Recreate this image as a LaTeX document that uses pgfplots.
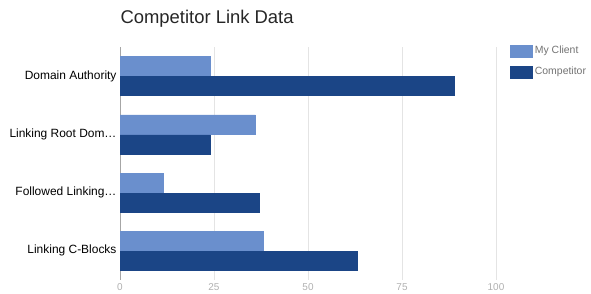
\documentclass[border=0pt]{standalone}
\usepackage{pgfplots}
\pgfplotsset{compat=1.18}
\usepackage{fontspec}
\setmainfont{Liberation Sans}
\definecolor{client}{HTML}{6A8FCD}
\definecolor{comp}{HTML}{1B4586}
\definecolor{gridc}{HTML}{E4E4E4}
\definecolor{tickc}{HTML}{B0B0B0}
\begin{document}
\begin{tikzpicture}
\useasboundingbox (0,0) rectangle (591bp,294bp);
\begin{axis}[
  at={(120bp,14bp)}, anchor=south west,
  scale only axis, width=376bp, height=233bp,
  xbar, bar width=19bp,
  xmin=0, xmax=100,
  ymin=-0.5, ymax=3.5, y dir=reverse,
  ytick={0,1,2,3},
  yticklabels={Domain Authority,Linking Root Dom…,Followed Linking…,Linking C-Blocks},
  yticklabel style={font=\fontsize{12}{14}\selectfont, text=black},
  xtick={0,25,50,75,100},
  xticklabel style={font=\fontsize{10}{12}\selectfont, text=tickc},
  /pgf/number format/assume math mode=true,
  major tick length=0pt,
  xmajorgrids, grid style={gridc, line width=0.6pt},
  axis x line*=bottom, axis y line*=left,
  x axis line style={draw=none},
  y axis line style={draw=gray!70, -},
  title={Competitor Link Data},
  title style={at={(0,1)}, anchor=base west, xshift=-3bp, yshift=18bp, font=\fontsize{18.5}{20}\selectfont, text=black!85},
  legend style={at={(1.03,1)}, anchor=north west, draw=none, font=\fontsize{10.5}{12}\selectfont, text=black!55, row sep=8pt, yshift=5bp},
  legend cell align=left,
  legend image code/.code={\fill[#1] (0bp,-6bp) rectangle (22bp,6bp);},
]
\addplot[fill=client, draw=client, bar shift=10bp] coordinates {(24,0) (36,1) (11.5,2) (38,3)};
\addplot[fill=comp, draw=comp, bar shift=-10bp] coordinates {(89,0) (24,1) (37,2) (63,3)};
\legend{My Client, Competitor}
\end{axis}
\end{tikzpicture}
\end{document}
